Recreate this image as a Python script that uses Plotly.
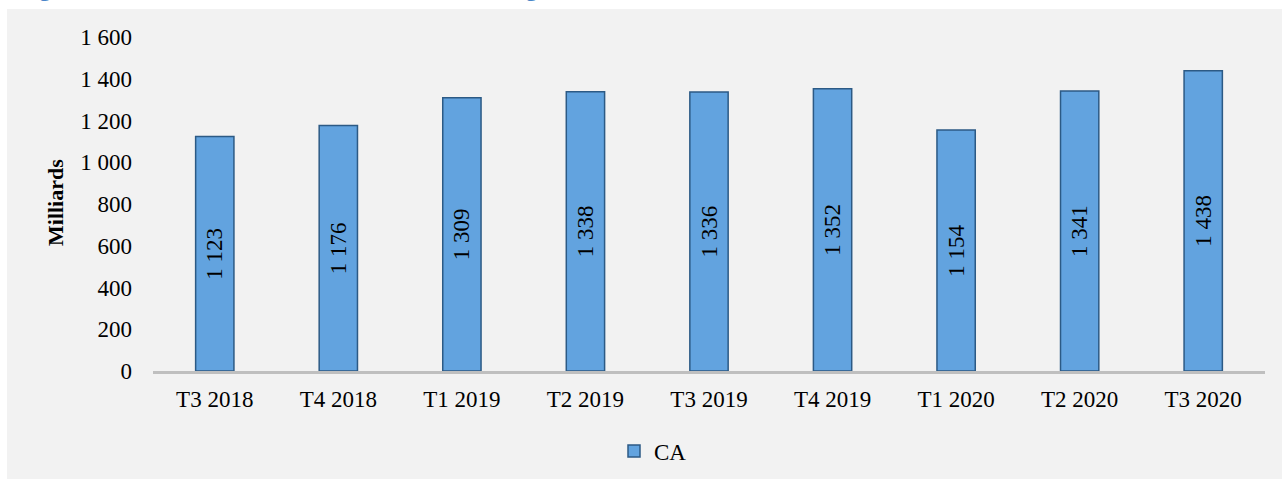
import plotly.graph_objects as go

categories = ["T3 2018", "T4 2018", "T1 2019", "T2 2019", "T3 2019", "T4 2019", "T1 2020", "T2 2020", "T3 2020"]
ca_values = [1123, 1176, 1309, 1338, 1336, 1352, 1154, 1341, 1438]
y_ticks = [0, 200, 400, 600, 800, 1000, 1200, 1400, 1600]
series_name = "CA"
y_title = "Milliards"
fig_title = "Figure 1 : Evolution trimestrielle du chiffre d'affaires global déclaré en milliards de FCFA"

FONT = "Liberation Serif"

# plot area in pixels
L, R, T, B = 153, 17, 37, 108
W, H = 1282, 479
PW, PH = W - L - R, H - T - B

def px_x(p):
    return (p - L) / PW

def px_y(p):
    return (H - B - p) / PH

fig = go.Figure()
fig.add_trace(go.Bar(
    x=categories, y=ca_values, name=series_name,
    marker=dict(color="#62A3DF", line=dict(color="#2C5A85", width=1.5)),
    texttemplate="%{y:,}", textposition="inside", insidetextanchor="middle",
    textangle=-90, textfont=dict(family=FONT, size=23, color="black"),
    insidetextfont=dict(family=FONT, size=23, color="black"),
    constraintext="none",
))

fig.update_layout(
    width=W, height=H,
    margin=dict(l=L, r=R, t=T, b=B, autoexpand=False),
    paper_bgcolor="white", plot_bgcolor="rgba(0,0,0,0)",
    separators=", ",
    bargap=0.69,
    font=dict(family=FONT, size=23, color="black"),
    showlegend=True,
    legend=dict(orientation="h", x=px_x(614), xanchor="left", y=px_y(451), yanchor="middle",
                font=dict(family=FONT, size=23, color="black"), bgcolor="rgba(0,0,0,0)",
                itemwidth=30),
    xaxis=dict(showline=True, linecolor="#BFBFBF", linewidth=3, showgrid=False, ticks="",
               tickfont=dict(family=FONT, size=23), ticklabelstandoff=5),
    yaxis=dict(range=[0, 1600], tickvals=y_ticks, tickformat=",", showgrid=False, showline=False,
               zeroline=False, ticks="", tickfont=dict(family=FONT, size=23), ticklabelstandoff=20),
    shapes=[dict(type="rect", xref="paper", yref="paper", layer="below",
                 x0=px_x(7), x1=px_x(W + 5), y0=px_y(H + 5), y1=px_y(9),
                 fillcolor="#F2F2F2", line=dict(width=0))],
    annotations=[
        dict(text="<b>" + fig_title + "</b>", xref="paper", yref="paper",
             x=px_x(18), xanchor="left", y=px_y(-11), yanchor="middle", showarrow=False,
             font=dict(family=FONT, size=22, color="#4A86C8")),
        dict(text="<b>" + y_title + "</b>", xref="paper", yref="paper",
             x=px_x(55), xanchor="center", y=px_y(203), yanchor="middle", showarrow=False,
             textangle=-90, font=dict(family=FONT, size=22, color="black")),
    ],
)
fig.write_html("out.html", config={"displayModeBar": False},
               post_script="document.body.style.margin='0';")
